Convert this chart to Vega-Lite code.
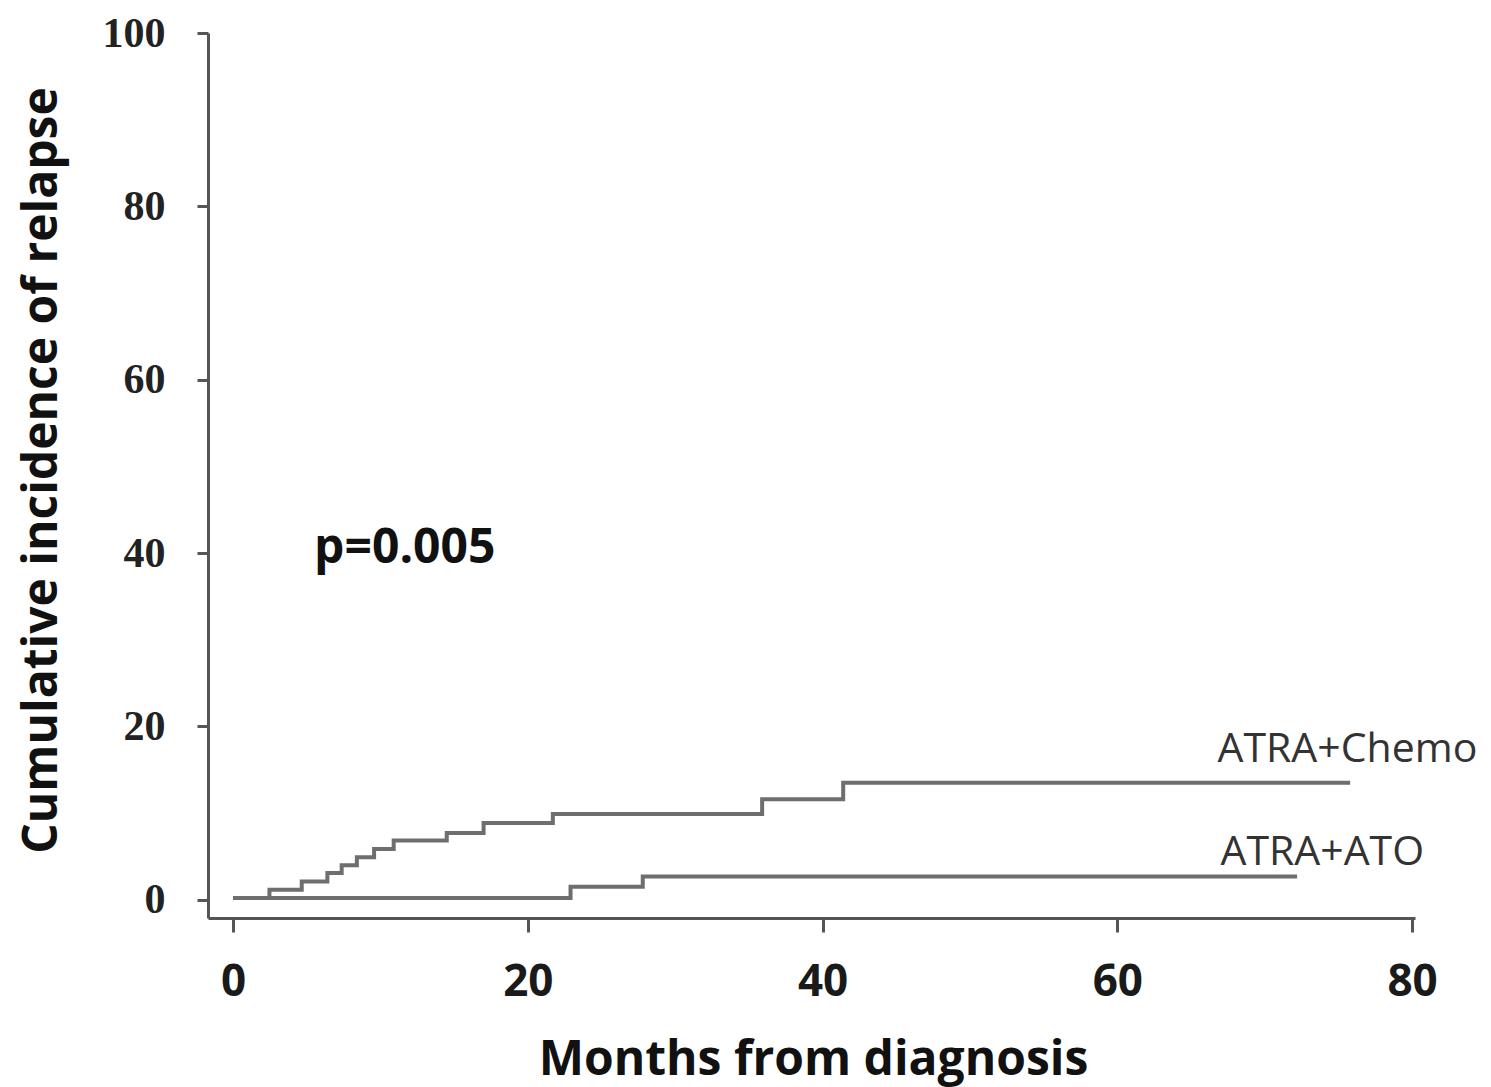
{
  "$schema": "https://vega.github.io/schema/vega-lite/v6.json",
  "width": 1207,
  "height": 885,
  "autosize": {"type": "none"},
  "padding": {"left": 208, "top": 33, "right": 76, "bottom": 169},
  "background": "white",
  "config": {
    "view": {"stroke": null},
    "axis": {"grid": false, "domainColor": "#555", "domainWidth": 3, "tickColor": "#555", "tickWidth": 3}
  },
  "datasets": {
    "curves": [
      {"group": "ATRA+Chemo", "month": 0, "ci": 0.2},
      {"group": "ATRA+Chemo", "month": 2.47, "ci": 1.15},
      {"group": "ATRA+Chemo", "month": 4.66, "ci": 2.1},
      {"group": "ATRA+Chemo", "month": 6.4, "ci": 3.1},
      {"group": "ATRA+Chemo", "month": 7.37, "ci": 4.0},
      {"group": "ATRA+Chemo", "month": 8.4, "ci": 4.9},
      {"group": "ATRA+Chemo", "month": 9.57, "ci": 5.85},
      {"group": "ATRA+Chemo", "month": 10.9, "ci": 6.85},
      {"group": "ATRA+Chemo", "month": 14.5, "ci": 7.7},
      {"group": "ATRA+Chemo", "month": 17.0, "ci": 8.85},
      {"group": "ATRA+Chemo", "month": 21.7, "ci": 9.9},
      {"group": "ATRA+Chemo", "month": 35.9, "ci": 11.6},
      {"group": "ATRA+Chemo", "month": 41.4, "ci": 13.5},
      {"group": "ATRA+Chemo", "month": 75.8, "ci": 13.5},
      {"group": "ATRA+ATO", "month": 0, "ci": 0.2},
      {"group": "ATRA+ATO", "month": 22.9, "ci": 1.5},
      {"group": "ATRA+ATO", "month": 27.8, "ci": 2.7},
      {"group": "ATRA+ATO", "month": 72.2, "ci": 2.7}
    ],
    "labels": [
      {"text": "ATRA+Chemo", "month": 66.8, "ci": 15.9},
      {"text": "ATRA+ATO", "month": 67.0, "ci": 4.04}
    ],
    "pval": [
      {"text": "p=0.005", "month": 5.5, "ci": 38.9}
    ]
  },
  "layer": [
    {
      "data": {"name": "curves"},
      "mark": {"type": "line", "interpolate": "step-after", "color": "#6e6e6e", "strokeWidth": 4},
      "encoding": {
        "x": {
          "field": "month", "type": "quantitative",
          "scale": {"domain": [-1.7, 80.2], "nice": false, "zero": false},
          "axis": {
            "values": [0, 20, 40, 60, 80],
            "title": "Months from diagnosis",
            "tickSize": 14,
            "labelFont": "Open Sans", "labelFontWeight": "bold", "labelFontSize": 44, "labelColor": "#1a1a1a",
            "labelPadding": 28,
            "titleFont": "Open Sans", "titleFontWeight": "bold", "titleFontSize": 48, "titleColor": "#111",
            "titleX": 605, "titleY": 156, "titleAlign": "center", "titleBaseline": "alphabetic", "titleAnchor": null
          }
        },
        "y": {
          "field": "ci", "type": "quantitative",
          "scale": {"domain": [-2.1, 100], "nice": false, "zero": false},
          "axis": {
            "values": [0, 20, 40, 60, 80, 100],
            "title": "Cumulative incidence of relapse",
            "tickSize": 11,
            "labelFont": "Liberation Serif", "labelFontWeight": "bold", "labelFontSize": 42, "labelColor": "#222",
            "labelPadding": 32,
            "titleFont": "Open Sans", "titleFontWeight": "bold", "titleFontSize": 48, "titleColor": "#111",
            "titleAngle": -90, "titleX": -152, "titleY": 437, "titleAlign": "center", "titleBaseline": "alphabetic", "titleAnchor": null
          }
        },
        "detail": {"field": "group", "type": "nominal"}
      }
    },
    {
      "data": {"name": "labels"},
      "mark": {"type": "text", "align": "left", "baseline": "alphabetic", "font": "Open Sans", "fontSize": 41, "color": "#333"},
      "encoding": {
        "x": {"field": "month", "type": "quantitative"},
        "y": {"field": "ci", "type": "quantitative"},
        "text": {"field": "text"}
      }
    },
    {
      "data": {"name": "pval"},
      "mark": {"type": "text", "align": "left", "baseline": "alphabetic", "font": "Open Sans", "fontWeight": "bold", "fontSize": 48, "color": "#111"},
      "encoding": {
        "x": {"field": "month", "type": "quantitative"},
        "y": {"field": "ci", "type": "quantitative"},
        "text": {"field": "text"}
      }
    }
  ]
}
